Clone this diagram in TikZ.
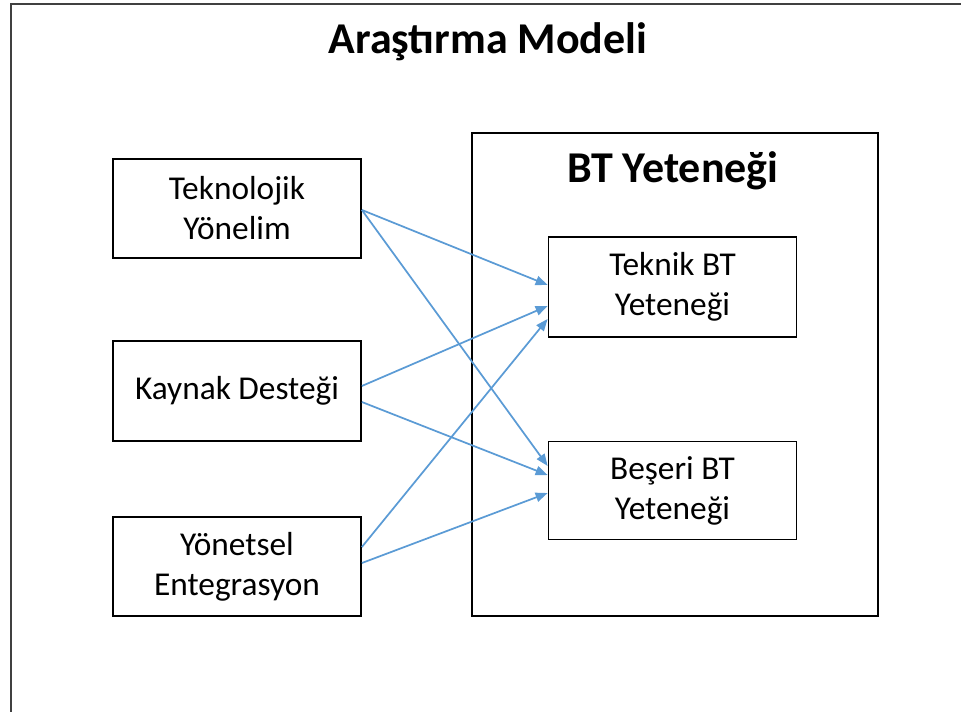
\documentclass[tikz,border=0pt]{standalone}
\usepackage{fontspec}
\setmainfont{Carlito}
\usetikzlibrary{arrows.meta}

\begin{document}
\begin{tikzpicture}[x=0.75pt, y=-0.75pt,
    % sizes in pixels, hence x/y above
    kutu/.style={draw=black, line width=1.3pt, fill=white, align=center,
                 minimum width=186pt, minimum height=74.5pt, inner sep=2pt,
                 font=\fontsize{25}{30}\selectfont},
    cerceve/.style={draw=black, line width=1.3pt},
    baslik/.style={font=\fontsize{33}{40}\selectfont\bfseries},
    ok/.style={draw=okmavi, line width=1.3pt,
               -{Triangle[length=9pt, width=7pt]}}]
  \definecolor{okmavi}{RGB}{91,155,213}
  \useasboundingbox (0,0) rectangle (961,712);

  % ---- outer frame (runs off the right and bottom of the page)
  \draw[draw=black!75, line width=1.5pt] (11,712) -- (11,4) -- (961,4);
  \node[baslik] (model) at (488,42) {Araştırma Modeli};

  % ---- the dependent side: BT capability and its two parts
  \node[cerceve, minimum width=304.5pt, minimum height=362.25pt] (bt) at (675,374.5) {};
  \node[baslik] (btbas) at (673,171) {BT Yeteneği};
  \node[kutu, minimum height=75pt] (teknik) at (672.5,287) {Teknik BT\\Yeteneği};
  \node[kutu, minimum height=73.5pt] (beseri) at (672.5,490.5) {Beşeri BT\\Yeteneği};

  % ---- the three antecedents
  \node[kutu] (tekno) at (237,208.5) {Teknolojik\\Yönelim};
  \node[kutu] (kaynak) at (237,391) {Kaynak Desteği};
  \node[kutu] (yonet) at (237,566.5) {Yönetsel\\Entegrasyon};

  % ---- hypothesised links
  \draw[ok] ([yshift=-1.1pt]tekno.east) -- ([yshift=1.5pt]teknik.west);
  \draw[ok] ([yshift=-1.1pt]tekno.east) -- ([yshift=18.4pt]beseri.west);
  \draw[ok] ([yshift=3.75pt]kaynak.east) -- ([yshift=-14.25pt]teknik.west);
  \draw[ok] ([yshift=-8.25pt]kaynak.east) -- ([yshift=11.6pt]beseri.west);
  \draw[ok] ([yshift=14.6pt]yonet.east) -- ([yshift=-24pt]teknik.west);
  \draw[ok] ([yshift=2.6pt]yonet.east) -- ([yshift=-1.9pt]beseri.west);
\end{tikzpicture}
\end{document}
